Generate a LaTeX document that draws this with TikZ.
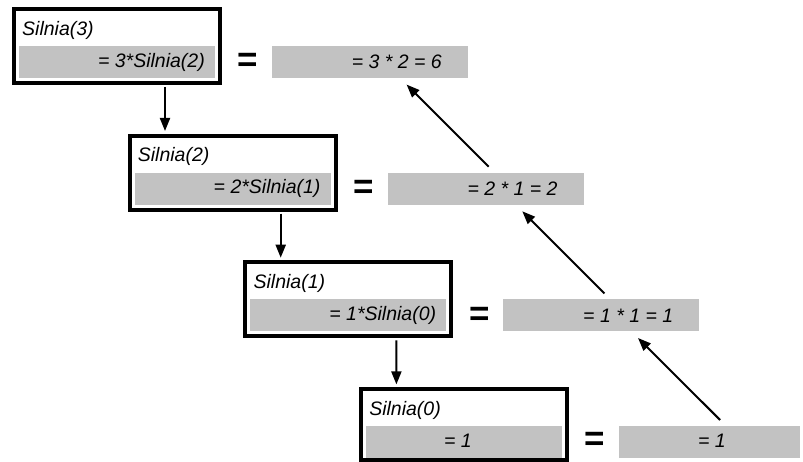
\documentclass[tikz,border=0pt]{standalone}
\usepackage{fontspec}
\setmainfont{Liberation Sans}
\usetikzlibrary{arrows.meta,calc}
\definecolor{barc}{RGB}{194,194,194}
\begin{document}
\begin{tikzpicture}[x=1pt,y=-1pt,
  frame/.style={draw=black, line width=4pt, inner sep=0pt, outer sep=0pt, anchor=north west, minimum width=206pt, minimum height=74pt},
  bar/.style={fill=barc, inner sep=0pt, outer sep=0pt, anchor=north west, minimum height=32pt, minimum width=196pt},
  lbl/.style={font=\fontsize{19.5}{21}\selectfont\itshape, inner sep=0pt},
  eqs/.style={font=\fontsize{35}{37}\selectfont\bfseries, inner sep=0pt},
  arr/.style={line width=2pt, -{Triangle[length=13pt,width=10pt]}}]
\useasboundingbox (0,0) rectangle (803,462);
% level 0
\node[frame] (f1) at (14,9) {};
\node[bar] (g1) at (19,46) {};
\node[lbl, anchor=west] (t1) at (22,30) {Silnia(3)};
\node[lbl, anchor=east] (l1) at (205,62) {= 3*Silnia(2)};
\node[eqs] (e1) at (248,62.5) {=};
\node[bar] (r1) at (272,46) {};
\node[lbl, anchor=east] (v1) at (442,62) {= 3 * 2 = 6};
% level 1
\node[frame] (f2) at (129.7,135.7) {};
\node[bar] (g2) at (134.7,172.7) {};
\node[lbl, anchor=west] (t2) at (137.7,156.7) {Silnia(2)};
\node[lbl, anchor=east] (l2) at (320.7,188.7) {= 2*Silnia(1)};
\node[eqs] (e2) at (363.7,189.2) {=};
\node[bar] (r2) at (387.7,172.7) {};
\node[lbl, anchor=east] (v2) at (557.7,188.7) {= 2 * 1 = 2};
% level 2
\node[frame] (f3) at (245.4,262.4) {};
\node[bar] (g3) at (250.4,299.4) {};
\node[lbl, anchor=west] (t3) at (253.4,283.4) {Silnia(1)};
\node[lbl, anchor=east] (l3) at (436.4,315.4) {= 1*Silnia(0)};
\node[eqs] (e3) at (479.4,315.9) {=};
\node[bar] (r3) at (503.4,299.4) {};
\node[lbl, anchor=east] (v3) at (673.4,315.4) {= 1 * 1 = 1};
% level 3
\node[frame, minimum height=71pt] (f4) at (361.1,389.1) {};
\node[bar] (g4) at (366.1,425.5) {};
\node[lbl, anchor=west] (t4) at (369.1,410.1) {Silnia(0)};
\node[lbl, anchor=east] (l4) at (472,441) {= 1};
\node[eqs] (e4) at (595.1,441.5) {=};
\node[bar, minimum width=181pt] (r4) at (619.1,425.5) {};
\node[lbl, anchor=east] (v4) at (726,441) {= 1};
% downward calls
\draw[arr] ($(f1.south west)+(151,4)$) -- ($(f2.north west)+(35.3,-4.7)$);
\draw[arr] ($(f2.south west)+(151,4)$) -- ($(f3.north west)+(35.3,-4.7)$);
\draw[arr] ($(f3.south west)+(151,4)$) -- ($(f4.north west)+(35.3,-4.7)$);
% upward returns
\draw[arr] ($(r4.north west)+(101,-5.5)$) -- ($(r3.south west)+(134.6,6.6)$);
\draw[arr] ($(r3.north west)+(101,-6)$) -- ($(r2.south west)+(134.6,6.6)$);
\draw[arr] ($(r2.north west)+(101,-6)$) -- ($(r1.south west)+(134.6,6.6)$);
\end{tikzpicture}
\end{document}
